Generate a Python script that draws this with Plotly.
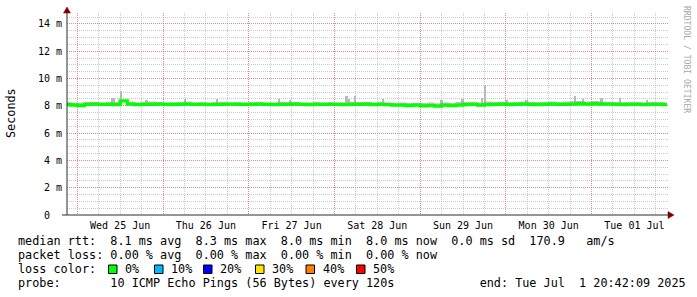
import pandas as pd
import plotly.graph_objects as go

# ---------------- data ----------------
# median RTT (ms), sampled every 2 hours from Jun 24 20:00, last point = end of data
median_ms = [
    8.10, 8.06,
    8.02, 8.10, 8.12, 8.10, 8.10, 8.08, 8.36, 8.12, 8.08, 8.10, 8.10, 8.12,   # Jun 25
    8.10, 8.08, 8.10, 8.12, 8.10, 8.10, 8.08, 8.10, 8.10, 8.12, 8.10, 8.10,   # Jun 26
    8.10, 8.12, 8.10, 8.08, 8.10, 8.10, 8.12, 8.10, 8.08, 8.10, 8.10, 8.10,   # Jun 27
    8.10, 8.08, 8.10, 8.10, 8.12, 8.08, 8.10, 8.08, 8.05, 8.05, 8.02, 8.05,   # Jun 28
    8.00, 8.02, 7.98, 8.05, 8.02, 8.05, 8.08, 8.10, 8.05, 8.08, 8.10, 8.12,   # Jun 29
    8.08, 8.10, 8.12, 8.10, 8.08, 8.10, 8.12, 8.10, 8.10, 8.12, 8.15, 8.12,   # Jun 30
    8.15, 8.12, 8.12, 8.10, 8.08, 8.10, 8.10, 8.08, 8.10, 8.10, 8.08,         # Jul 01
    8.08,
]
# upper edge of the smoke (ms) on the same time grid
smoke_hi_ms = [
    8.25, 8.22,
    8.25, 8.30, 8.28, 8.25, 8.30, 8.28, 8.40, 8.30, 8.25, 8.28, 8.32, 8.28,
    8.25, 8.28, 8.30, 8.32, 8.25, 8.28, 8.25, 8.28, 8.30, 8.25, 8.28, 8.25,
    8.28, 8.30, 8.25, 8.25, 8.30, 8.28, 8.28, 8.25, 8.25, 8.30, 8.25, 8.28,
    8.25, 8.25, 8.30, 8.28, 8.28, 8.25, 8.30, 8.25, 8.22, 8.25, 8.20, 8.22,
    8.20, 8.25, 8.18, 8.25, 8.20, 8.28, 8.30, 8.30, 8.25, 8.32, 8.30, 8.30,
    8.28, 8.30, 8.32, 8.30, 8.28, 8.30, 8.32, 8.28, 8.32, 8.35, 8.35, 8.32,
    8.35, 8.32, 8.30, 8.28, 8.28, 8.30, 8.28, 8.25, 8.28, 8.28, 8.25,
    8.25,
]
# lower edge of the smoke (ms)
smoke_lo_ms = [round(m - 0.08, 2) for m in median_ms]

# isolated smoke spikes (time, top in ms)
spike_times = [
    "2025-06-25 09:43", "2025-06-25 10:17", "2025-06-25 12:14", "2025-06-25 19:26",
    "2025-06-26 06:10", "2025-06-26 15:07", "2025-06-27 08:28", "2025-06-27 11:33",
    "2025-06-28 03:26", "2025-06-28 04:10", "2025-06-28 05:46", "2025-06-28 13:36",
    "2025-06-29 06:02", "2025-06-29 11:55", "2025-06-29 17:24", "2025-06-29 18:10",
    "2025-06-30 00:14", "2025-06-30 05:50", "2025-06-30 19:22", "2025-06-30 21:36",
    "2025-07-01 02:50", "2025-07-01 07:57", "2025-07-01 15:33",
]
spike_top_ms = [
    8.55, 8.60, 9.10, 8.40,
    8.50, 8.50, 8.47, 8.45,
    8.72, 8.47, 8.72, 8.47,
    8.45, 8.47, 8.60, 9.52,
    8.42, 8.45, 8.72, 8.50,
    8.55, 8.55, 8.40,
]
spike_base_ms = 8.05

y_tick_vals = [0, 2, 4, 6, 8, 10, 12, 14]
y_tick_text = ["0\u00a0\u00a0", "2 m", "4 m", "6 m", "8 m", "10 m", "12 m", "14 m"]

legend_lines = [
    "median rtt:  8.1 ms avg  8.3 ms max  8.0 ms min  8.0 ms now  0.0 ms sd  170.9   am/s",
    "packet loss: 0.00 % avg  0.00 % max  0.00 % min  0.00 % now",
    "loss color:",
    "probe:       10 ICMP Echo Pings (56 Bytes) every 120s            end: Tue Jul  1 20:42:09 2025",
]
loss_labels = ["0%", "10%", "20%", "30%", "40%", "50%"]
loss_colors = ["#00ff00", "#00b8ff", "#0000ff", "#ffe600", "#ff7f00", "#ff0000"]

x_start = "2025-06-24 21:07"
x_end = "2025-07-01 21:41"

times = list(pd.date_range("2025-06-24 20:00", periods=len(median_ms) - 1, freq="2h"))
times.append(pd.Timestamp("2025-07-01 21:06"))

# minor grid positions (every 6 h, skipping midnights / every 0.5 m, skipping majors)
x_minor = [t for t in pd.date_range("2025-06-24 18:00", "2025-07-01 18:00", freq="6h") if t.hour != 0]
y_minor = [v / 2 for v in range(0, 30) if v % 4 != 0]

# ---------------- layout geometry (pixels) ----------------
FW, FH = 697, 297
L, R, T, B = 67, 669, 13, 215
W, H = R - L, B - T


def PX(px):
    return (px - L) / W


def PY(py):
    return (B - py) / H


MONO = "DejaVu Sans Mono"

fig = go.Figure()

# smoke band
fig.add_trace(go.Scatter(x=times, y=smoke_lo_ms, mode="lines", line=dict(width=0, shape="hv"),
                         hoverinfo="skip", showlegend=False))
fig.add_trace(go.Scatter(x=times, y=smoke_hi_ms, mode="lines", line=dict(width=0, shape="hv"),
                         fill="tonexty", fillcolor="rgba(170,170,170,0.75)",
                         hoverinfo="skip", showlegend=False))
# smoke spikes
fig.add_trace(go.Bar(x=spike_times, y=[v - spike_base_ms for v in spike_top_ms], base=spike_base_ms,
                     width=1.9e6, marker=dict(color="rgba(185,185,185,1)", line=dict(width=0)),
                     hoverinfo="skip", showlegend=False))
# median line
fig.add_trace(go.Scatter(x=times, y=median_ms, mode="lines",
                         line=dict(color="#00ff00", width=3.3, shape="hv"),
                         hoverinfo="skip", showlegend=False))

MGRID = "rgba(225,110,110,0.8)"
GRID = "rgba(185,185,185,0.75)"

fig.update_xaxes(
    type="date", range=[x_start, x_end],
    tickmode="linear", tick0="2025-06-25", dtick=86400000,
    ticklabelmode="period", tickformat="%a %d %b",
    showgrid=True, gridcolor=MGRID, griddash="1px,1px", gridwidth=1,
    minor=dict(tickmode="array", tickvals=x_minor,
               showgrid=True, gridcolor=GRID, griddash="1px,1px", gridwidth=1, ticks=""),
    ticks="", showline=False, zeroline=False, ticklabelstandoff=3,
    tickfont=dict(family=MONO, size=10, color="#000"),
    fixedrange=True,
)
fig.update_yaxes(
    range=[0, 14.8], tickmode="array", tickvals=y_tick_vals, ticktext=y_tick_text,
    showgrid=True, gridcolor=MGRID, griddash="1px,1px", gridwidth=1,
    minor=dict(tickmode="array", tickvals=y_minor, showgrid=True,
               gridcolor=GRID, griddash="1px,1px", gridwidth=1, ticks=""),
    ticks="", showline=False, zeroline=False, ticklabelstandoff=4,
    tickfont=dict(family=MONO, size=10, color="#000"),
    fixedrange=True,
)

shapes = []
AXIS = "#2c2c2c"
ARROW = "#7f0000"
# axis lines
shapes.append(dict(type="line", xref="paper", yref="paper", x0=PX(62), x1=PX(669), y0=0, y1=0,
                   line=dict(color=AXIS, width=1)))
shapes.append(dict(type="line", xref="paper", yref="paper", x0=0, x1=0, y0=0, y1=PY(10),
                   line=dict(color=AXIS, width=1)))
# arrows
shapes.append(dict(type="path", xref="paper", yref="paper",
                   path=f"M {PX(668)} {PY(211.5)} L {PX(674)} {PY(215)} L {PX(668)} {PY(218.5)} Z",
                   fillcolor=ARROW, line=dict(color=ARROW, width=0.5)))
shapes.append(dict(type="path", xref="paper", yref="paper",
                   path=f"M {PX(63.5)} {PY(13)} L {PX(67)} {PY(7)} L {PX(70.5)} {PY(13)} Z",
                   fillcolor=ARROW, line=dict(color=ARROW, width=0.5)))

annotations = []
line_y = [241.5, 255.3, 269.3, 283.0]
for txt, yy in zip(legend_lines, line_y):
    annotations.append(dict(text=txt.replace(" ", "\u00a0"), xref="paper", yref="paper",
                            x=PX(16), y=PY(yy), xanchor="left", yanchor="middle",
                            showarrow=False, font=dict(family=MONO, size=11.8, color="#000")))

box_left = [108.5, 154.5, 203.5, 255.5, 306, 356.5]
for lbl, col, bx in zip(loss_labels, loss_colors, box_left):
    shapes.append(dict(type="rect", xref="paper", yref="paper",
                       x0=PX(bx), x1=PX(bx + 8.5), y0=PY(265), y1=PY(273.5),
                       fillcolor=col, line=dict(color="#000", width=1)))
    annotations.append(dict(text=lbl, xref="paper", yref="paper",
                            x=PX(bx + 14.5), y=PY(269.3), xanchor="left", yanchor="middle",
                            showarrow=False, font=dict(family=MONO, size=11.8, color="#000")))

annotations.append(dict(text="Seconds", xref="paper", yref="paper", x=PX(11), y=PY(113),
                        xanchor="center", yanchor="middle", textangle=-90, showarrow=False,
                        font=dict(family=MONO, size=11.8, color="#000")))
annotations.append(dict(text="RRDTOOL / TOBI OETIKER".replace(" ", "\u00a0"), xref="paper", yref="paper",
                        x=PX(687), y=PY(59), xanchor="center", yanchor="middle", textangle=90,
                        showarrow=False, font=dict(family=MONO, size=8.1, color="#a8a8a8")))

fig.update_layout(
    width=FW, height=FH, autosize=False,
    margin=dict(l=L, r=FW - R, t=T, b=FH - B, pad=0),
    paper_bgcolor="#ffffff", plot_bgcolor="#ffffff",
    showlegend=False, bargap=0,
    shapes=shapes, annotations=annotations,
)

fig.write_html("out.html", config={"displayModeBar": False})
